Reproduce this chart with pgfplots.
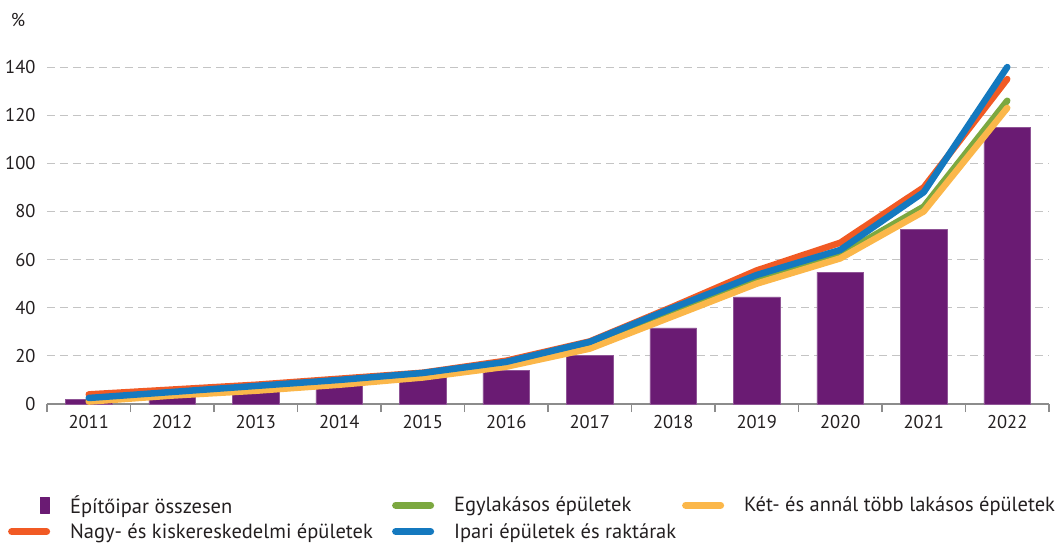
\documentclass[border=0pt]{standalone}
\usepackage{fontspec}
\setmainfont{PT Sans}
\usepackage{pgfplots}
\usepackage{pgfplotstable}
\pgfplotsset{compat=1.18}
\definecolor{cpurple}{HTML}{6A1B73}
\definecolor{corange}{HTML}{F15A24}
\definecolor{cgreen}{HTML}{7CA840}
\definecolor{cyellow}{HTML}{FBB74A}
\definecolor{cblue}{HTML}{1479BF}
\definecolor{cgrid}{HTML}{C4C4C4}
\definecolor{caxis}{HTML}{8C8C8C}
\definecolor{ctext}{HTML}{231F20}
\pgfplotstableread{
x total egy ket nagy ipari
0 2.0 1.5 1.0 4.0 2.5
1 3.3 4.0 3.5 6.0 5.0
2 5.4 6.0 5.5 8.0 7.5
3 8.7 8.5 8.0 10.5 10.0
4 11.2 11.5 11.0 13.0 12.9
5 14.1 16.0 15.5 18.0 17.5
6 20.3 24.0 23.0 26.0 25.8
7 31.6 38.0 36.5 40.5 40.0
8 44.5 51.5 50.0 55.5 53.6
9 54.8 62.0 60.5 67.0 64.0
10 72.7 82.0 80.0 90.0 88.0
11 115.0 126.0 123.0 135.0 140.0
}\data
\begin{document}
\begin{tikzpicture}[font=\fontsize{18.5}{21}\selectfont, text=ctext]
\useasboundingbox (-47pt,-142pt) rectangle (1008pt,404pt);
\begin{axis}[
  name=ax, scale only axis, width=1002pt, height=349pt,
  xmin=-0.5, xmax=11.5, ymin=0, ymax=145,
  axis x line*=bottom, axis y line*=left,
  y axis line style={draw=none},
  x axis line style={caxis, line width=1.5pt},
  xtick={-0.5,0.5,...,11.5},
  x tick label as interval,
  xticklabels={2011,2012,2013,2014,2015,2016,2017,2018,2019,2020,2021,2022},
  x tick style={caxis, line width=1.5pt},
  major tick length=8pt, tick align=outside,
  ytick={0,20,...,140},
  y tick style={draw=none},
  ymajorgrids, grid style={cgrid, line width=1pt, dash pattern=on 8pt off 5pt},
  /pgf/number format/assume math mode=true,
  tick label style={font=\fontsize{18.5}{21}\selectfont, text=ctext},
  clip=false,
  legend columns=3,
  legend style={at={(-0.039,-0.262)}, anchor=north west, draw=none, fill=none,
    font=\fontsize{20.5}{23}\selectfont, inner sep=0pt, row sep=8.5pt,
    nodes={inner sep=0pt, anchor=west},
    /tikz/every odd column/.style={column sep=20pt}},
  legend cell align=left,
]
\addplot[ybar, bar width=0.56, fill=cpurple, draw=cpurple!75!white, line width=0.6pt,
  legend image code/.code={\fill[cpurple] (32pt,-8pt) rectangle (41pt,8pt);}]
  table[x=x,y=total]{\data};
\addlegendentry{\makebox[322pt][l]{Építőipar összesen}}
\pgfplotsset{every axis plot/.append style={line width=6.5pt, line cap=round, line join=round,
  legend image code/.code={\draw[#1, line width=7pt, line cap=round] (3.5pt,0pt) -- (38.5pt,0pt);}}}
\addplot[cgreen] table[x=x,y=egy]{\data};
\addlegendentry{\makebox[228pt][l]{Egylakásos épületek}}
\addplot[cyellow] table[x=x,y=ket]{\data};
\addlegendentry{Két- és annál több lakásos épületek}
\addplot[corange] table[x=x,y=nagy]{\data};
\addlegendentry{\makebox[322pt][l]{Nagy- és kiskereskedelmi épületek}}
\addplot[cblue] table[x=x,y=ipari]{\data};
\addlegendentry{\makebox[228pt][l]{Ipari épületek és raktárak}}
\end{axis}
\node at (-29pt,384pt) {\%};
\end{tikzpicture}
\end{document}
